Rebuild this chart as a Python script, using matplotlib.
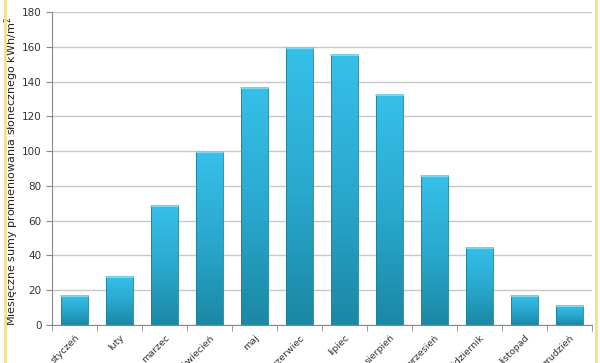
import numpy as np
import matplotlib
matplotlib.use("Agg")
import matplotlib.pyplot as plt
from matplotlib.colors import LinearSegmentedColormap

months = ["styczeń", "luty", "marzec", "kwiecień", "maj", "czerwiec",
          "lipiec", "sierpień", "wrzesień", "październik", "listopad", "grudzień"]
values = [17, 28, 69, 100, 137, 160, 156, 133, 86, 45, 17, 11.5]
y_ticks = [0, 20, 40, 60, 80, 100, 120, 140, 160, 180]


def main():
	fig = plt.figure(figsize=(6, 3.63), dpi=100)
	ax = fig.add_axes([0.087, 0.105, 0.9, 0.862])

	x = np.arange(len(months))
	bars = ax.bar(x, values, width=0.6, color="none", edgecolor="#1b7f96",
	              linewidth=0.6, zorder=3)

	# vertical gradient inside each bar
	cmap = LinearSegmentedColormap.from_list("g", ["#1b88a4", "#2aa9cf", "#36c0ea"])
	grad = np.linspace(0, 1, 256).reshape(-1, 1)
	for b in bars:
		x0, w, h = b.get_x(), b.get_width(), b.get_height()
		im = ax.imshow(grad, cmap=cmap, aspect="auto", origin="lower",
		               extent=[x0, x0 + w, 0, h], zorder=2)
		im.set_clip_path(b)
		ax.plot([x0, x0 + w], [h - 0.6, h - 0.6], color="#8fdcf3", lw=1.2, zorder=4)

	ax.set_xlim(-0.5, len(months) - 0.5)
	ax.set_ylim(0, 180)
	ax.set_yticks(y_ticks)
	ax.set_yticklabels([str(v) for v in y_ticks], fontsize=7.5, color="#333333")
	ax.set_xticks(x)
	ax.set_xticklabels(months, rotation=45, ha="right", rotation_mode="anchor",
	                   fontsize=6.8, color="#333333")
	ax.tick_params(axis="x", length=0, pad=6)
	ax.set_xticks(np.arange(-0.5, len(months)), minor=True)
	ax.tick_params(axis="x", which="minor", length=4, color="#888888")
	ax.tick_params(axis="y", length=4, color="#888888")

	ax.grid(axis="y", color="#c8c8c8", linewidth=1, zorder=0)
	ax.set_axisbelow(True)
	for s in ["top", "right"]:
		ax.spines[s].set_visible(False)
	ax.spines["left"].set_color("#888888")
	ax.spines["bottom"].set_color("#888888")

	ax.set_ylabel("Miesięczne sumy promieniowania słonecznego kWh/m$^2$",
	              fontsize=8, color="#222222")
	ax.yaxis.set_label_coords(-0.058, 0.49)

	# yellowish frame lines at left and right
	fig.add_artist(plt.Line2D([0.008, 0.008], [0, 1], color="#f3df8c", lw=2,
	                          transform=fig.transFigure))
	fig.add_artist(plt.Line2D([0.993, 0.993], [0, 1], color="#f3df8c", lw=2,
	                          transform=fig.transFigure))

	fig.savefig("out.png", dpi=100)


if __name__ == "__main__":
	main()
